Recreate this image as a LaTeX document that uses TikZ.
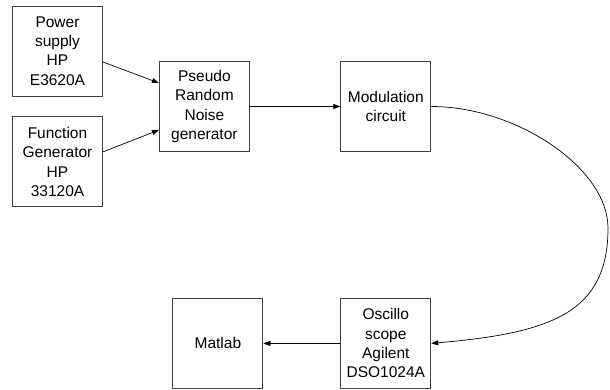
\documentclass[tikz,border=0pt]{standalone}
\usepackage{fontspec}
\setmainfont{Liberation Sans}
\usepackage{tikz}
\usetikzlibrary{arrows.meta, positioning}
\tikzset{
  box/.style={rectangle, draw=black!75, line width=0.9pt, fill=white,
              minimum width=90pt, minimum height=90pt, inner sep=1pt,
              align=center, font=\fontsize{15.5}{19.3}\selectfont},
  arrow/.style={-{Triangle[length=7pt,width=5pt]}, line width=0.7pt},
}
\begin{document}
\begin{tikzpicture}[x=1pt, y=1pt]
  \useasboundingbox (0,0) rectangle (610,389);

  % Sources
  \node[box] (power) at (57.5,338) {Power\\supply\\HP\\E3620A};
  \node[box, below=20pt of power] (func) {Function\\Generator\\HP\\33120A};

  % Noise generator and modulation
  \node[box, right=56pt of power, yshift=-55.5pt] (prn)
    {Pseudo\\Random\\Noise\\generator};
  \node[box, right=90.5pt of prn] (mod) {Modulation\\circuit};

  % Measurement
  \node[box, below=146pt of mod] (osc) {Oscillo\\scope\\Agilent\\DSO1024A};
  \node[box, left=77pt of osc] (matlab) {Matlab};

  \coordinate (bend) at (608,161);

  \draw[arrow] ([yshift=-11pt]power.east) -- ([yshift=23.5pt]prn.west);
  \draw[arrow] ([yshift=10pt]func.east) -- ([yshift=-23.5pt]prn.west);
  \draw[arrow] (prn.east) -- (mod.west);
  \draw[arrow] (mod.east) .. controls +(85,0) and +(0,60) .. (bend)
    .. controls +(0,-85) and +(120,10.5) .. (osc.east);
  \draw[arrow] (osc.west) -- (matlab.east);
\end{tikzpicture}
\end{document}
